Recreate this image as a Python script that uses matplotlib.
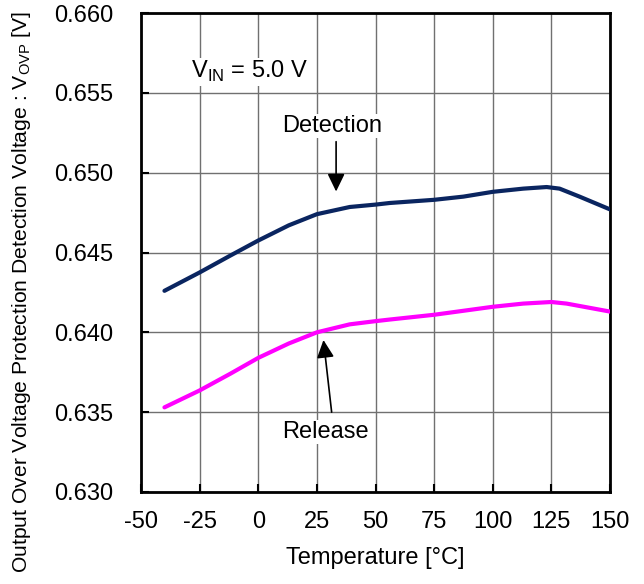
import matplotlib
matplotlib.use("Agg")
import matplotlib.pyplot as plt

# Detection / release threshold vs temperature
temp_det = [-40, -25, -12, 0, 13, 25, 39, 50, 56, 75, 87.5, 100, 113, 123, 128.5, 137, 150]
v_det = [0.6426, 0.64375, 0.6448, 0.64575, 0.6467, 0.6474, 0.64785, 0.6480, 0.6481,
         0.6483, 0.6485, 0.6488, 0.6490, 0.6491, 0.6490, 0.6485, 0.6477]

temp_rel = [-40, -25, -12, 0, 13, 25, 39, 50, 56, 75, 100, 113, 125, 131.5, 150]
v_rel = [0.6353, 0.63636, 0.6374, 0.6384, 0.6393, 0.6400, 0.6405, 0.6407, 0.6408,
         0.6411, 0.6416, 0.6418, 0.6419, 0.6418, 0.6413]

x_ticks = [-50, -25, 0, 25, 50, 75, 100, 125, 150]
y_ticks = [0.630, 0.635, 0.640, 0.645, 0.650, 0.655, 0.660]

plt.rcParams["font.family"] = ["Liberation Sans", "DejaVu Sans"]
plt.rcParams["mathtext.fontset"] = "custom"
plt.rcParams["mathtext.rm"] = "Liberation Sans"
plt.rcParams["axes.unicode_minus"] = False

W, H = 644, 584
fig = plt.figure(figsize=(W / 100, H / 100), dpi=100)
ax = fig.add_axes([141 / W, 1 - 492 / H, (610 - 141) / W, (492 - 13) / H])

ax.plot(temp_det, v_det, color="#0a2560", lw=3, solid_capstyle="round",
        solid_joinstyle="round", zorder=3)
ax.plot(temp_rel, v_rel, color="#ff00ff", lw=3, solid_capstyle="round",
        solid_joinstyle="round", zorder=3)

ax.set_xlim(-50, 150)
ax.set_ylim(0.630, 0.660)
ax.set_xticks(x_ticks)
ax.set_yticks(y_ticks)
ax.set_yticklabels([f"{v:.3f}" for v in y_ticks])
ax.tick_params(direction="in", length=6, width=1.5, labelsize=17)
ax.tick_params(axis="y", pad=20)
ax.tick_params(axis="x", pad=14)
ax.grid(True, color="#707070", lw=1)
for s in ax.spines.values():
    s.set_linewidth(2)

box = dict(fc="white", ec="none", pad=1)
head = "-|>,head_length=0.72,head_width=0.35"

ax.text(-28.8, 0.65632, r"V$_{\mathrm{IN}}$ = 5.0 V", fontsize=17, va="center",
        bbox=box)
ax.text(31.4, 0.65292, "Detection", fontsize=17, ha="center", va="center", bbox=box)
ax.annotate("", xy=(33.2, 0.64882), xytext=(33.2, 0.65194),
            arrowprops=dict(arrowstyle=head, color="black", lw=1.2,
                            mutation_scale=15, shrinkA=0, shrinkB=0))
ax.text(28.5, 0.63376, "Release", fontsize=17, ha="center", va="center", bbox=box)
ax.annotate("", xy=(27.8, 0.63952), xytext=(31.3, 0.6350),
            arrowprops=dict(arrowstyle=head, color="black", lw=1.2,
                            mutation_scale=15, shrinkA=0, shrinkB=0))

ax.set_xlabel("Temperature [°C]", fontsize=17, labelpad=10)
fig.text(22 / W, 1 - 292 / H,
         r"Output Over Voltage Protection Detection Voltage : V$_{\mathrm{OVP}}$ [V]",
         rotation=90, ha="center", va="center", fontsize=15.2)

fig.savefig("out.png", dpi=100)
